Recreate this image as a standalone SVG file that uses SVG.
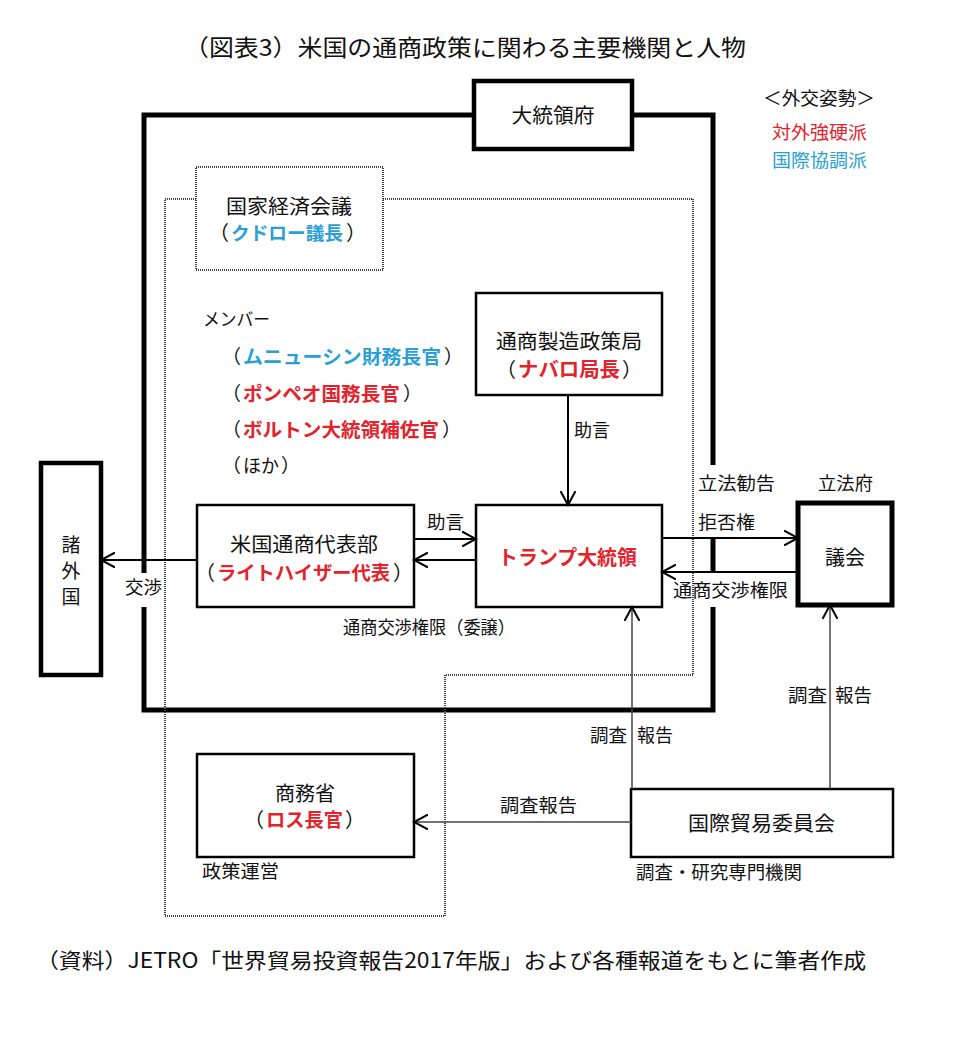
<svg xmlns="http://www.w3.org/2000/svg" width="963" height="1038" viewBox="0 0 963 1038">
<defs>
<style>
text{font-family:"Noto Sans CJK JP","Noto Sans CJK SC",sans-serif;fill:#111;}
.t20{font-size:20px;}
.t18{font-size:18px;}
.t19{font-size:19px;}
.mid{text-anchor:middle;}
.end{text-anchor:end;}
.red{fill:#e3232c;font-weight:bold;}
.blue{fill:#2a9fd6;font-weight:bold;}
.redn{fill:#e3232c;}
.bluen{fill:#2a9fd6;}
.box{fill:#fff;stroke:#000;stroke-width:2.5;}
.thick{fill:#fff;stroke:#000;stroke-width:4.5;}
.dot{fill:none;stroke:#444;stroke-width:2;stroke-dasharray:1 1;}
.dotbox{fill:#fff;stroke:#444;stroke-width:2;stroke-dasharray:1 1;}
.con{fill:none;stroke:#000;stroke-width:2;marker-end:url(#arr);}
.con2{fill:none;stroke:#444;stroke-width:1.5;marker-end:url(#arr);}
</style>
<marker id="arr" viewBox="0 0 16 16" markerUnits="userSpaceOnUse" markerWidth="16" markerHeight="16" refX="14" refY="8" orient="auto">
<path d="M0,0.5 L14,8 L0,15.5" fill="none" stroke="#000" stroke-width="2"/>
</marker>
</defs>
<rect width="963" height="1038" fill="#fff"/>

<text class="mid" x="465" y="56" style="font-size:23px" textLength="562" lengthAdjust="spacingAndGlyphs">（図表3）米国の通商政策に関わる主要機関と人物</text>

<g id="legend">
<text class="t18" x="763" y="105" textLength="112" lengthAdjust="spacingAndGlyphs">＜外交姿勢＞</text>
<text class="t18 redn" x="772" y="139" textLength="95" lengthAdjust="spacingAndGlyphs">対外強硬派</text>
<text class="t18 bluen" x="772" y="167" textLength="95" lengthAdjust="spacingAndGlyphs">国際協調派</text>
</g>

<g id="frames">
<path d="M144,573 V115 H713 V465 M713,538 V573 M713,607 V710 H144 V607" fill="none" stroke="#000" stroke-width="5"/>
<path class="dot" d="M165,199 H693 V675 H445 V916 H165 Z"/>
</g>

<g id="white-house">
<rect class="thick" x="474" y="81" width="158" height="68"/>
<text class="t20 mid" x="553" y="123" textLength="83" lengthAdjust="spacingAndGlyphs">大統領府</text>
</g>

<g id="nec">
<rect class="dotbox" x="196" y="167" width="187" height="103"/>
<text class="t20" x="226" y="214" textLength="126" lengthAdjust="spacingAndGlyphs">国家経済会議</text>
<text class="t20 end" x="229" y="240">（</text>
<text class="blue" style="font-size:18.5px" x="231" y="240" textLength="112" lengthAdjust="spacingAndGlyphs">クドロー議長</text>
<text class="t20" x="346" y="240">）</text>
</g>

<g id="members">
<text class="t18" x="203" y="326" textLength="67" lengthAdjust="spacingAndGlyphs">メンバー</text>
<text class="t19 end" x="241" y="364">（</text>
<text class="t19 blue" x="243" y="364" textLength="198" lengthAdjust="spacingAndGlyphs">ムニューシン財務長官</text>
<text class="t19" x="444" y="364">）</text>
<text class="t19 end" x="241" y="401">（</text>
<text class="t19 red" x="243" y="401" textLength="157" lengthAdjust="spacingAndGlyphs">ポンペオ国務長官</text>
<text class="t19" x="403" y="401">）</text>
<text class="t19 end" x="241" y="437">（</text>
<text class="t19 red" x="243" y="437" textLength="196" lengthAdjust="spacingAndGlyphs">ボルトン大統領補佐官</text>
<text class="t19" x="442" y="437">）</text>
<text class="t19 end" x="241" y="473">（</text>
<text class="t19" x="243" y="473" textLength="36" lengthAdjust="spacingAndGlyphs">ほか</text>
<text class="t19" x="281" y="473">）</text>
</g>

<g id="otmp">
<rect class="box" x="476" y="293" width="186" height="102"/>
<text class="t20" x="496" y="349" textLength="146" lengthAdjust="spacingAndGlyphs">通商製造政策局</text>
<text class="t20 end" x="516" y="377">（</text>
<text class="t20 red" x="518" y="377" textLength="102" lengthAdjust="spacingAndGlyphs">ナバロ局長</text>
<text class="t20" x="622" y="377">）</text>
</g>

<g id="trump">
<rect class="box" x="476" y="505" width="186" height="102"/>
<text class="t20 red" x="498" y="565" textLength="139" lengthAdjust="spacingAndGlyphs">トランプ大統領</text>
</g>

<g id="ustr">
<rect class="box" x="197" y="505" width="217" height="102"/>
<text class="t20" x="230" y="552" textLength="148" lengthAdjust="spacingAndGlyphs">米国通商代表部</text>
<text class="t20 end" x="215" y="580">（</text>
<text class="t19 red" x="217" y="580" textLength="173" lengthAdjust="spacingAndGlyphs">ライトハイザー代表</text>
<text class="t20" x="393" y="580">）</text>
</g>

<g id="foreign">
<rect class="thick" x="41" y="463" width="60" height="212"/>
<text class="t19 mid" x="71" y="552">諸</text>
<text class="t19 mid" x="71" y="578">外</text>
<text class="t19 mid" x="71" y="604">国</text>
</g>

<g id="congress">
<rect x="798" y="503" width="94" height="102" fill="#fff" stroke="#000" stroke-width="5"/>
<text class="t20 mid" x="845" y="565" textLength="40" lengthAdjust="spacingAndGlyphs">議会</text>
<text class="t18" x="818" y="490" textLength="55" lengthAdjust="spacingAndGlyphs">立法府</text>
</g>

<g id="commerce">
<rect class="box" x="197" y="754" width="217" height="103"/>
<text class="t20" x="275" y="801" textLength="60" lengthAdjust="spacingAndGlyphs">商務省</text>
<text class="t20 end" x="264" y="827">（</text>
<text class="t19 red" x="266" y="827" textLength="77" lengthAdjust="spacingAndGlyphs">ロス長官</text>
<text class="t20" x="345" y="827">）</text>
<text class="t18" x="202" y="878" textLength="77" lengthAdjust="spacingAndGlyphs">政策運営</text>
</g>

<g id="itc">
<rect class="box" x="631" y="789" width="262" height="68"/>
<text class="t20" x="688" y="831" textLength="147" lengthAdjust="spacingAndGlyphs">国際貿易委員会</text>
<text class="t18" x="636" y="879" textLength="166" lengthAdjust="spacingAndGlyphs">調査・研究専門機関</text>
</g>

<g id="connectors">
<path class="con" d="M568,395 V505"/>
<path class="con" d="M414,539 H476"/>
<path class="con" d="M476,560 H414"/>
<path class="con" d="M197,560 H101"/>
<path class="con" d="M662,538 H798"/>
<path class="con" d="M798,572 H662"/>
<path class="con2" d="M632,789 V607"/>
<path class="con2" d="M830,789 V605"/>
<path class="con2" d="M631,822 H414"/>
</g>

<g id="labels">
<text class="t18" x="574" y="437" textLength="36" lengthAdjust="spacingAndGlyphs">助言</text>
<text class="t18" x="427" y="529" textLength="37" lengthAdjust="spacingAndGlyphs">助言</text>
<text class="t18" x="125" y="594" textLength="37" lengthAdjust="spacingAndGlyphs">交渉</text>
<text class="t18" x="343" y="634" textLength="172" lengthAdjust="spacingAndGlyphs">通商交渉権限（委譲）</text>
<text class="t18" x="698" y="490" textLength="77" lengthAdjust="spacingAndGlyphs">立法勧告</text>
<text class="t18" x="698" y="529" textLength="57" lengthAdjust="spacingAndGlyphs">拒否権</text>
<text class="t18" x="673" y="597" textLength="115" lengthAdjust="spacingAndGlyphs">通商交渉権限</text>
<text class="t18" x="788" y="702" textLength="39" lengthAdjust="spacingAndGlyphs">調査</text>
<text class="t18" x="835" y="702" textLength="37" lengthAdjust="spacingAndGlyphs">報告</text>
<text class="t18" x="590" y="742" textLength="37" lengthAdjust="spacingAndGlyphs">調査</text>
<text class="t18" x="637" y="742" textLength="36" lengthAdjust="spacingAndGlyphs">報告</text>
<text class="t18" x="500" y="812" textLength="77" lengthAdjust="spacingAndGlyphs">調査報告</text>
</g>

<text x="36" y="968" style="font-size:21px" textLength="830" lengthAdjust="spacingAndGlyphs">（資料）JETRO「世界貿易投資報告2017年版」および各種報道をもとに筆者作成</text>
</svg>
